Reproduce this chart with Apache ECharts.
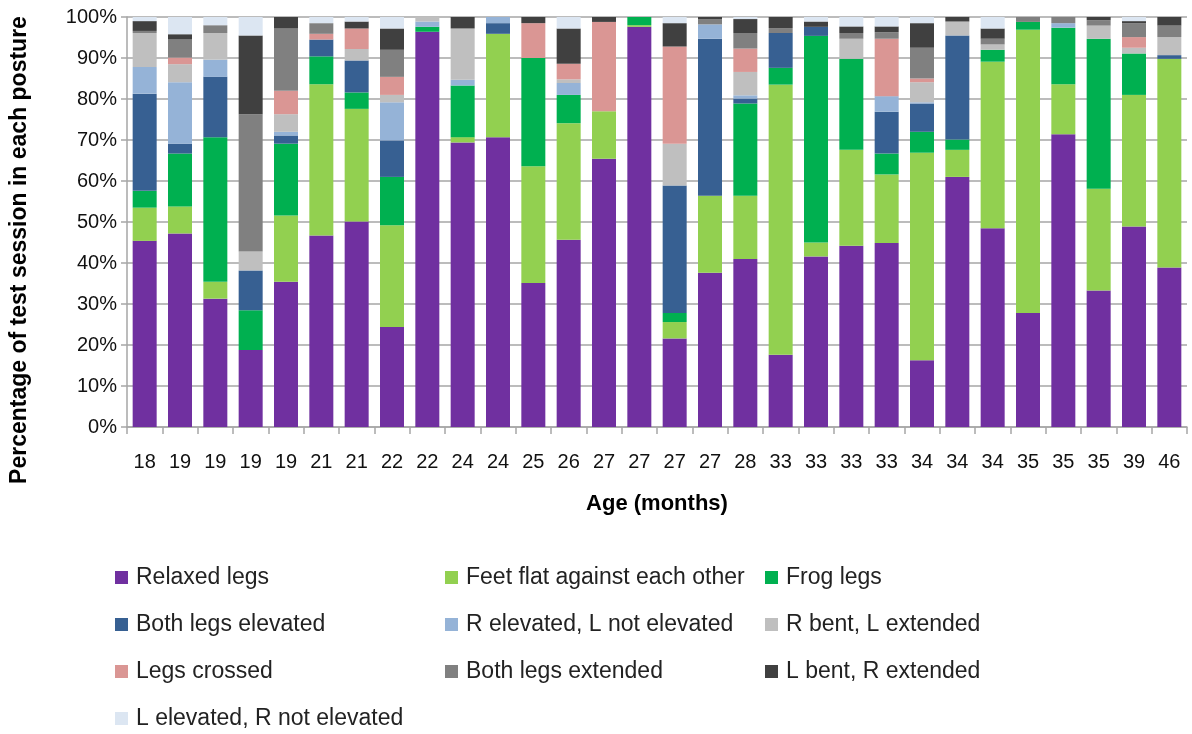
<!DOCTYPE html>
<html>
<head>
<meta charset="utf-8">
<script src="https://cdn.jsdelivr.net/npm/echarts@6/dist/echarts.min.js"></script>
<style>
html,body{margin:0;padding:0;background:#fff;}
#chart{width:1192px;height:734px;}
</style>
</head>
<body>
<div id="chart"></div>
<script>
const categories = ['18','19','19','19','19','21','21','22','22','24','24','25','26','27','27','27','27','28','33','33','33','33','34','34','34','35','35','35','39','46'];
const yTicks = [0,10,20,30,40,50,60,70,80,90,100];

const relaxedLegs      = [45.4,47.2,31.3,18.8,35.4,46.7,50.1,24.4,96.4,69.4,70.7,35.1,45.7,65.4,97.6,21.6,37.6,41.0,17.6,41.6,44.2,44.9,16.3,61.0,48.5,27.8,71.4,33.3,48.9,38.9];
const feetFlat         = [8.1,6.6,4.1,0,16.2,36.9,27.5,24.8,0,1.3,25.2,28.5,28.4,11.6,0.4,4.0,18.8,15.4,65.9,3.4,23.4,16.7,50.6,6.6,40.6,69.1,12.2,24.8,32.1,50.9];
const frogLegs         = [4.1,12.9,35.3,9.7,17.5,6.8,4.0,11.8,1.2,12.6,0,26.4,6.9,0,2.0,2.2,0,22.5,4.1,50.4,22.2,5.1,5.1,2.5,2.9,1.9,13.8,36.6,10.1,0];
const bothElevated     = [23.7,2.4,14.7,9.7,2.0,4.1,7.8,8.9,0,0,2.6,0,0,0,0,31.1,38.3,1.2,8.5,2.2,0,10.2,6.9,25.4,0,0,0,0,0,0.9];
const rElevated        = [6.5,15.0,4.2,0,0.9,0,0,9.3,1.3,1.4,1.5,0,2.9,0,0,0,3.5,0.8,0,0,0,3.8,0.3,0,0,0,1.1,0,0,0];
const rBent            = [8.3,4.4,6.5,4.6,4.3,0,2.8,1.8,1.1,12.5,0,0,0.9,0,0,10.2,0,5.7,0,0,4.9,0,4.9,3.4,1.3,0,0,3.2,1.4,4.4];
const legsCrossed      = [0,1.6,0,0,5.7,1.4,5.0,4.4,0,0,0,8.5,3.8,21.8,0,23.7,0,5.7,0,0,0,14.0,0.9,0,0,0,0,0,2.6,0];
const bothExtended     = [0.5,4.4,1.9,33.5,15.3,2.6,0,6.6,0,0,0,0,0,0,0,0,1.3,3.8,1.2,0,1.4,1.6,7.5,0,1.4,1.2,1.5,1.3,3.4,2.8];
const lBent            = [2.4,1.3,0,19.2,2.7,0,1.7,5.2,0,2.8,0,1.5,8.6,1.2,0,5.7,0.5,3.4,2.7,1.3,1.6,1.4,6.0,1.1,2.5,0,0,0.8,0.5,2.1];
const lElevated        = [1.0,4.2,2.0,4.5,0,1.5,1.1,2.8,0,0,0,0,2.8,0,0,1.5,0,0.5,0,1.1,2.3,2.3,1.5,0,2.8,0,0,0,1.0,0];

const seriesNames = ['Relaxed legs','Feet flat against each other','Frog legs','Both legs elevated','R elevated, L not elevated','R bent, L extended','Legs crossed','Both legs extended','L bent, R extended','L elevated, R not elevated'];
const seriesData = [relaxedLegs,feetFlat,frogLegs,bothElevated,rElevated,rBent,legsCrossed,bothExtended,lBent,lElevated];
const colors = ['#7030A0','#92D050','#00B050','#376092','#95B3D7','#BFBFBF','#DA9694','#808080','#404040','#DCE6F2'];

const FONT = '"Liberation Sans", Arial, sans-serif';
const legendCols = [110, 440, 760];
const legendRows = [561, 608, 655, 702];

const legends = seriesNames.map((n, i) => ({
  data: [n],
  left: legendCols[i % 3],
  top: legendRows[Math.floor(i / 3)],
  itemWidth: 13,
  itemHeight: 13,
  icon: 'rect',
  itemGap: 0,
  textStyle: { fontFamily: FONT, fontSize: 23, color: '#222', padding: [0,0,0,3] },
  selectedMode: false
}));

const chart = echarts.init(document.getElementById('chart'));
chart.setOption({
  animation: false,
  color: colors,
  legend: legends,
  grid: { left: 127, right: 5, top: 17, bottom: 307, outerBoundsMode: 'none', containLabel: false },
  xAxis: {
    type: 'category',
    data: categories,
    name: 'Age (months)',
    nameLocation: 'middle',
    nameGap: 66,
    nameTextStyle: { fontFamily: FONT, fontSize: 22, fontWeight: 'bold', color: '#000' },
    axisLine: { lineStyle: { color: '#A6A6A6', width: 1.5 } },
    axisTick: { show: true, length: 7, lineStyle: { color: '#A6A6A6', width: 1.5 } },
    axisLabel: { fontFamily: FONT, fontSize: 20, color: '#111', margin: 25 }
  },
  yAxis: {
    type: 'value',
    min: 0,
    max: 100,
    interval: 10,
    name: 'Percentage of test session in each posture',
    nameLocation: 'middle',
    nameGap: 96,
    nameTextStyle: { fontFamily: FONT, fontSize: 23, fontWeight: 'bold', color: '#000', padding: [0, 56, 0, 0] },
    axisLine: { show: true, lineStyle: { color: '#A6A6A6', width: 1.5 } },
    axisTick: { show: true, length: 6, lineStyle: { color: '#A6A6A6', width: 1.5 } },
    splitLine: { lineStyle: { color: '#A6A6A6', width: 1.5 } },
    axisLabel: {
      fontFamily: FONT, fontSize: 20, color: '#111', margin: 10,
      formatter: v => yTicks.includes(v) ? v + '%' : ''
    }
  },
  series: seriesData.map((d, i) => ({
    name: seriesNames[i],
    type: 'bar',
    stack: 'total',
    data: d,
    barWidth: 24,
    itemStyle: { color: colors[i] }
  }))
});
</script>
</body>
</html>
